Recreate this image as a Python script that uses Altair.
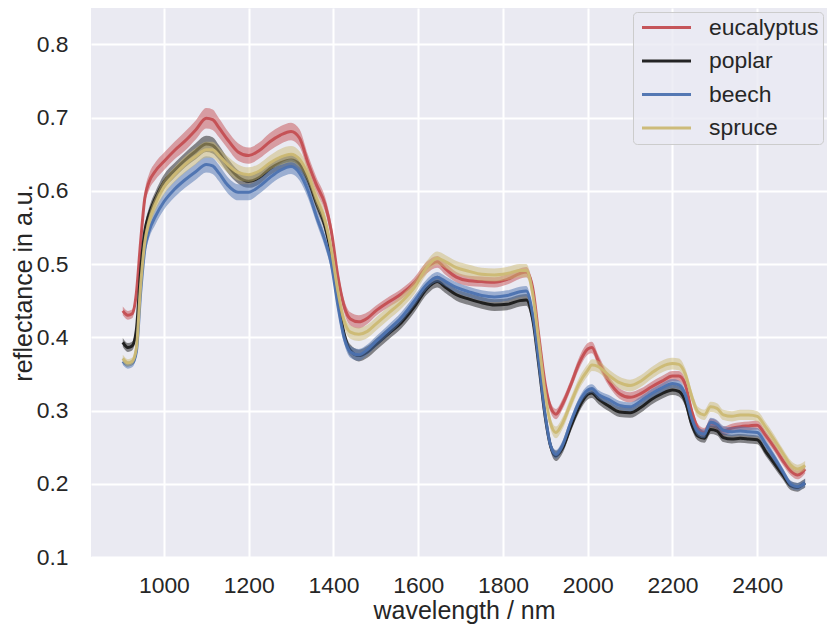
import altair as alt
import pandas as pd

wavelength = [903, 915, 925, 935, 945, 955, 965, 980, 1000, 1025,
              1050, 1075, 1100, 1115, 1130, 1150, 1175, 1200, 1225, 1250,
              1275, 1300, 1320, 1340, 1360, 1380, 1395, 1410, 1425, 1440,
              1460, 1480, 1500, 1530, 1560, 1590, 1620, 1645, 1665, 1690,
              1720, 1750, 1780, 1810, 1840, 1855, 1870, 1885, 1900, 1912,
              1925, 1940, 1960, 1980, 2000, 2010, 2025, 2050, 2075, 2100,
              2125, 2150, 2175, 2200, 2215, 2230, 2245, 2260, 2275, 2290,
              2305, 2320, 2340, 2360, 2380, 2400, 2420, 2440, 2460, 2480,
              2495, 2505, 2513]

eucalyptus = [0.436, 0.430, 0.432, 0.460, 0.530, 0.590, 0.612, 0.627, 0.640, 0.655,
              0.668, 0.683, 0.699, 0.697, 0.686, 0.670, 0.653, 0.648, 0.655, 0.667,
              0.676, 0.681, 0.672, 0.638, 0.608, 0.582, 0.545, 0.485, 0.443, 0.425,
              0.421, 0.426, 0.436, 0.448, 0.459, 0.474, 0.495, 0.503, 0.493, 0.482,
              0.477, 0.476, 0.475, 0.479, 0.487, 0.489, 0.468, 0.400, 0.335, 0.305,
              0.295, 0.308, 0.335, 0.365, 0.384, 0.386, 0.368, 0.340, 0.323, 0.318,
              0.323, 0.332, 0.340, 0.347, 0.347, 0.336, 0.300, 0.276, 0.270, 0.283,
              0.280, 0.272, 0.276, 0.278, 0.279, 0.280, 0.266, 0.250, 0.232, 0.217,
              0.212, 0.215, 0.220]

poplar = [0.393, 0.386, 0.388, 0.410, 0.490, 0.545, 0.568, 0.590, 0.612, 0.628,
          0.642, 0.654, 0.664, 0.662, 0.652, 0.635, 0.619, 0.613, 0.618, 0.630,
          0.638, 0.642, 0.636, 0.615, 0.583, 0.552, 0.512, 0.455, 0.405, 0.382,
          0.375, 0.380, 0.390, 0.405, 0.420, 0.441, 0.466, 0.476, 0.468, 0.458,
          0.452, 0.447, 0.444, 0.445, 0.450, 0.451, 0.425, 0.360, 0.290, 0.252,
          0.238, 0.248, 0.278, 0.305, 0.322, 0.324, 0.316, 0.306, 0.298, 0.297,
          0.304, 0.315, 0.323, 0.328, 0.326, 0.313, 0.282, 0.265, 0.262, 0.274,
          0.272, 0.263, 0.261, 0.262, 0.261, 0.260, 0.244, 0.228, 0.212, 0.197,
          0.195, 0.198, 0.201]

beech = [0.367, 0.362, 0.364, 0.380, 0.460, 0.520, 0.545, 0.565, 0.585, 0.602,
         0.615, 0.626, 0.636, 0.634, 0.624, 0.608, 0.598, 0.598, 0.606, 0.618,
         0.628, 0.633, 0.624, 0.600, 0.565, 0.532, 0.500, 0.445, 0.400, 0.380,
         0.376, 0.383, 0.394, 0.410, 0.427, 0.449, 0.472, 0.482, 0.476, 0.468,
         0.462, 0.457, 0.455, 0.457, 0.462, 0.463, 0.432, 0.365, 0.293, 0.253,
         0.240, 0.252, 0.284, 0.312, 0.328, 0.330, 0.322, 0.315, 0.307, 0.305,
         0.313, 0.323, 0.331, 0.337, 0.335, 0.322, 0.290, 0.271, 0.268, 0.284,
         0.281, 0.273, 0.271, 0.272, 0.271, 0.270, 0.254, 0.236, 0.217, 0.199,
         0.196, 0.198, 0.201]

spruce = [0.371, 0.365, 0.367, 0.385, 0.470, 0.530, 0.558, 0.582, 0.605, 0.622,
          0.636, 0.647, 0.656, 0.656, 0.648, 0.636, 0.625, 0.622, 0.627, 0.638,
          0.646, 0.650, 0.643, 0.622, 0.590, 0.560, 0.520, 0.465, 0.423, 0.407,
          0.404, 0.408, 0.418, 0.433, 0.448, 0.467, 0.495, 0.508, 0.503, 0.495,
          0.490, 0.486, 0.485, 0.487, 0.491, 0.491, 0.460, 0.392, 0.322, 0.283,
          0.270, 0.282, 0.310, 0.337, 0.355, 0.362, 0.360, 0.348, 0.338, 0.334,
          0.340, 0.351, 0.360, 0.364, 0.363, 0.350, 0.320, 0.298, 0.294, 0.305,
          0.303, 0.294, 0.292, 0.294, 0.294, 0.292, 0.277, 0.260, 0.242, 0.225,
          0.220, 0.222, 0.225]

# half-width of the shaded band around each mean curve
eucalyptus_spread = [0.006, 0.006, 0.006, 0.008, 0.010, 0.010, 0.011, 0.012, 0.012, 0.012,
                     0.013, 0.013, 0.014, 0.014, 0.013, 0.012, 0.012, 0.011, 0.011, 0.012,
                     0.012, 0.012, 0.012, 0.011, 0.010, 0.010, 0.010, 0.009, 0.009, 0.009,
                     0.009, 0.008, 0.007, 0.007, 0.007, 0.007, 0.008, 0.008, 0.008, 0.007,
                     0.007, 0.007, 0.007, 0.007, 0.007, 0.007, 0.007, 0.007, 0.007, 0.007,
                     0.007, 0.007, 0.007, 0.008, 0.008, 0.008, 0.008, 0.007, 0.007, 0.007,
                     0.007, 0.007, 0.007, 0.007, 0.007, 0.007, 0.007, 0.006, 0.006, 0.006,
                     0.006, 0.006, 0.006, 0.006, 0.006, 0.006, 0.006, 0.006, 0.006, 0.006,
                     0.006, 0.006, 0.006]

poplar_spread = [0.006, 0.006, 0.006, 0.007, 0.008, 0.008, 0.009, 0.009, 0.010, 0.010,
                 0.010, 0.011, 0.011, 0.011, 0.010, 0.010, 0.009, 0.009, 0.009, 0.009,
                 0.009, 0.009, 0.009, 0.009, 0.009, 0.009, 0.009, 0.008, 0.008, 0.008,
                 0.008, 0.008, 0.008, 0.008, 0.008, 0.008, 0.008, 0.008, 0.008, 0.008,
                 0.008, 0.008, 0.008, 0.008, 0.008, 0.008, 0.008, 0.007, 0.007, 0.007,
                 0.007, 0.007, 0.007, 0.007, 0.007, 0.007, 0.007, 0.007, 0.007, 0.007,
                 0.007, 0.007, 0.007, 0.007, 0.007, 0.007, 0.007, 0.006, 0.006, 0.006,
                 0.006, 0.006, 0.006, 0.006, 0.006, 0.006, 0.006, 0.006, 0.006, 0.006,
                 0.006, 0.006, 0.006]

beech_spread = [0.005, 0.005, 0.005, 0.007, 0.009, 0.010, 0.010, 0.011, 0.011, 0.011,
                0.011, 0.011, 0.011, 0.011, 0.011, 0.011, 0.011, 0.011, 0.010, 0.010,
                0.010, 0.010, 0.010, 0.010, 0.009, 0.009, 0.009, 0.008, 0.008, 0.008,
                0.008, 0.007, 0.007, 0.007, 0.007, 0.007, 0.007, 0.007, 0.007, 0.007,
                0.007, 0.007, 0.007, 0.007, 0.007, 0.007, 0.007, 0.007, 0.006, 0.006,
                0.006, 0.006, 0.006, 0.006, 0.006, 0.006, 0.006, 0.006, 0.006, 0.006,
                0.006, 0.006, 0.006, 0.006, 0.006, 0.006, 0.006, 0.006, 0.006, 0.006,
                0.006, 0.006, 0.006, 0.006, 0.006, 0.006, 0.006, 0.006, 0.005, 0.005,
                0.005, 0.005, 0.005]

spruce_spread = [0.005, 0.005, 0.005, 0.007, 0.009, 0.010, 0.010, 0.010, 0.010, 0.010,
                 0.011, 0.011, 0.011, 0.011, 0.011, 0.011, 0.011, 0.010, 0.010, 0.010,
                 0.011, 0.011, 0.011, 0.010, 0.010, 0.010, 0.010, 0.009, 0.009, 0.009,
                 0.009, 0.009, 0.009, 0.009, 0.009, 0.009, 0.009, 0.009, 0.009, 0.009,
                 0.009, 0.009, 0.009, 0.009, 0.009, 0.009, 0.009, 0.008, 0.008, 0.008,
                 0.008, 0.008, 0.008, 0.008, 0.008, 0.008, 0.008, 0.008, 0.008, 0.008,
                 0.008, 0.008, 0.008, 0.008, 0.008, 0.008, 0.008, 0.007, 0.007, 0.007,
                 0.007, 0.007, 0.007, 0.007, 0.007, 0.007, 0.007, 0.007, 0.006, 0.006,
                 0.006, 0.006, 0.006]

series_names = ["eucalyptus", "poplar", "beech", "spruce"]
series_colors = ["#C44E52", "#1A1A1A", "#4C72B0", "#CCB974"]
series_values = [eucalyptus, poplar, beech, spruce]
series_spreads = [eucalyptus_spread, poplar_spread, beech_spread, spruce_spread]

x_ticks = [1000, 1200, 1400, 1600, 1800, 2000, 2200, 2400]
y_ticks = [0.1, 0.2, 0.3, 0.4, 0.5, 0.6, 0.7, 0.8]

for v, s in zip(series_values, series_spreads):
    assert len(v) == len(wavelength) and len(s) == len(wavelength)

rows = []
for name, vals, spr in zip(series_names, series_values, series_spreads):
    for w, v, s in zip(wavelength, vals, spr):
        rows.append({"series": name, "wl": w, "mean": v, "lo": v - s, "hi": v + s})
df = pd.DataFrame(rows)

FONT = "Liberation Sans"
TXT = "#262626"

x_scale = alt.Scale(domain=[828, 2564.6], nice=False, zero=False)
y_scale = alt.Scale(domain=[0.1, 0.8495], nice=False, zero=False)
x_axis = alt.Axis(values=x_ticks, format="d", title="wavelength / nm",
                  titleBaseline="alphabetic", titleY=61, titleX=373)
y_axis = alt.Axis(values=y_ticks, format=".1f", title="reflectance in a.u.",
                  titleBaseline="alphabetic", titleX=-60)

legend = alt.Legend(
    orient="none", legendX=542, legendY=4, title=None,
    symbolType="M-2.45,0H2.45", symbolSize=400, symbolStrokeWidth=3,
    labelFont=FONT, labelFontSize=22.9, labelColor=TXT,
    padding=4, rowPadding=9.5, labelOffset=31, symbolOffset=18,
    fillColor="rgba(234,234,242,0.8)", strokeColor="#cccccc", cornerRadius=4,
)

layers = []
for name, col in zip(series_names, series_colors):
    base = alt.Chart(df).transform_filter(alt.datum.series == name)
    band = base.mark_area(color=col, opacity=0.5, interpolate="monotone").encode(
        x=alt.X("wl:Q", scale=x_scale, axis=x_axis),
        y=alt.Y("lo:Q", scale=y_scale, axis=y_axis),
        y2="hi:Q",
    )
    line = base.mark_line(strokeWidth=3, interpolate="monotone", opacity=0.95).encode(
        x=alt.X("wl:Q", scale=x_scale, axis=x_axis),
        y=alt.Y("mean:Q", scale=y_scale, axis=y_axis),
        color=alt.Color("series:N", scale=alt.Scale(domain=series_names, range=series_colors),
                        legend=legend),
    )
    layers += [band, line]

chart = (
    alt.layer(*layers)
    .properties(
        width=736, height=549,
        autosize=alt.AutoSizeParams(type="none"),
        padding={"left": 83, "top": 0, "right": 0, "bottom": 67},
        background="white",
    )
    .configure_view(fill="#EAEAF2", stroke=None)
    .configure_axis(
        grid=True, gridColor="white", gridWidth=2, domain=False, ticks=False, tickSize=0,
        labelFont=FONT, labelFontSize=22.9, labelColor=TXT,
        titleFont=FONT, titleFontSize=25, titleFontWeight="normal", titleColor=TXT,
    )
    .configure_axisX(labelPadding=17)
    .configure_axisY(labelPadding=23)
)

chart.save("out.html", embed_options={"renderer": "svg", "actions": False})
